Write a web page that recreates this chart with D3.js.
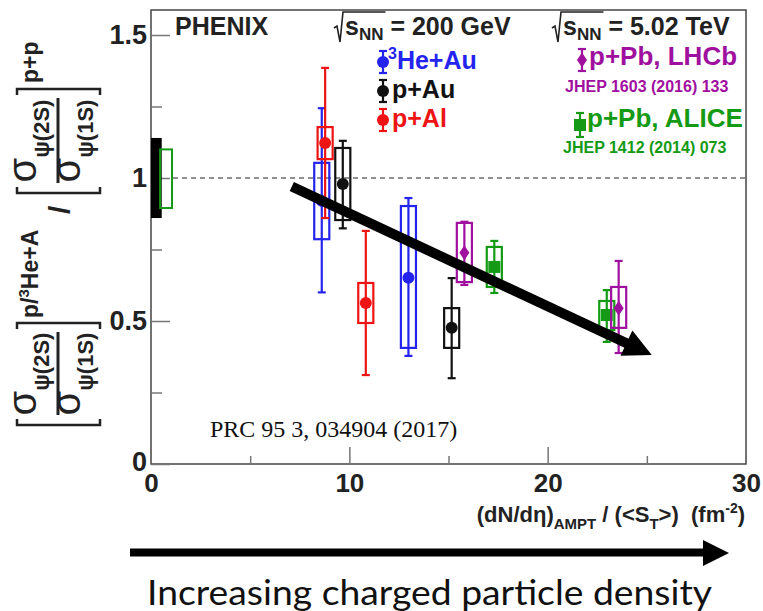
<!DOCTYPE html>
<html><head><meta charset="utf-8">
<script src="https://cdn.jsdelivr.net/npm/d3@7"></script>
<style>
  body { margin: 0; background: #fff; }
  svg { display: block; }
  .b { font-family: "Liberation Sans", Arial, sans-serif; font-weight: bold; }
</style></head>
<body>
<svg id="chart" width="763" height="611"></svg>
<script>
// ---- data: x = (dN/deta)/<S_T>, y = double ratio ----
// stat = error bar, sys = open box
const HEAU  = [ {x: 8.61,  y: 0.920, statLo: 0.600, statHi: 1.244, sysLo: 0.786, sysHi: 1.053},
                {x: 12.98, y: 0.651, statLo: 0.378, statHi: 0.930, sysLo: 0.406, sysHi: 0.902} ];
const PAL   = [ {x: 8.78,  y: 1.122, statLo: 0.860, statHi: 1.385, sysLo: 1.066, sysHi: 1.178},
                {x: 10.83, y: 0.563, statLo: 0.311, statHi: 0.815, sysLo: 0.493, sysHi: 0.633} ];
const PAU   = [ {x: 9.67,  y: 0.979, statLo: 0.824, statHi: 1.130, sysLo: 0.853, sysHi: 1.105},
                {x: 15.16, y: 0.476, statLo: 0.300, statHi: 0.650, sysLo: 0.406, sysHi: 0.545} ];
const ALICE = [ {x: 17.31, y: 0.689, statLo: 0.598, statHi: 0.780, sysLo: 0.619, sysHi: 0.759},
                {x: 22.98, y: 0.521, statLo: 0.427, statHi: 0.608, sysLo: 0.468, sysHi: 0.570} ];
const LHCB  = [ {x: 15.80, y: 0.739, statLo: 0.626, statHi: 0.847, sysLo: 0.636, sysHi: 0.843},
                {x: 23.58, y: 0.545, statLo: 0.388, statHi: 0.710, sysLo: 0.476, sysHi: 0.619} ];

// global normalisation uncertainties drawn at the left edge
const GLOBAL_PP    = {x0: 0.00, x1: 0.54, lo: 0.86,  hi: 1.14};
const GLOBAL_ALICE = {x0: 0.46, x1: 1.06, lo: 0.895, hi: 1.10};

// trend arrow (from, to) in data units
const TREND = {x0: 7.1, y0: 0.97, x1: 25.25, y1: 0.381};

const X_MAJOR = [0, 10, 20, 30];
const X_MINOR = [5, 15, 25];
const Y_MAJOR = [0, 0.5, 1, 1.5];
const Y_MINOR = [0.25, 0.75, 1.25];
const Y_LABELS = ["0", "0.5", "1", "1.5"];

const BLUE = "#2424ee", RED = "#ee1414", BLACK = "#111", PURPLE = "#a0109e", GREEN = "#159a15";

const SERIES = [
  {data: HEAU,  color: BLUE,   marker: "circle"},
  {data: PAL,   color: RED,    marker: "circle"},
  {data: PAU,   color: BLACK,  marker: "circle"},
  {data: ALICE, color: GREEN,  marker: "square"},
  {data: LHCB,  color: PURPLE, marker: "diamond"}
];

const svg = d3.select("#chart");
const x = d3.scaleLinear().domain([0, 30]).range([151, 746]);
const y = d3.scaleLinear().domain([0, 1.5]).range([464, 35]);
const BOX_HW = 0.38;   // half width of systematic boxes, x units

// frame
svg.append("rect").attr("x", x(0)).attr("y", 10).attr("width", x(30) - x(0)).attr("height", y(0) - 10)
   .attr("fill", "none").attr("stroke", "#444").attr("stroke-width", 1.5);

// axes (ticks inward, labels outside)
const yAx = svg.append("g").attr("class", "b").attr("transform", `translate(${x(0)},0)`)
   .call(d3.axisLeft(y).tickValues(Y_MAJOR).tickSize(-19).tickPadding(4).tickFormat((d, i) => Y_LABELS[i]));
yAx.call(g => g.select(".domain").remove());
yAx.selectAll("text").attr("font-size", 27).attr("font-family", null).attr("fill", "#222");
yAx.selectAll("line").attr("stroke", "#777").attr("stroke-width", 1.5);
yAx.selectAll(".tick").filter(d => d === 0).select("text").attr("dy", "0.25em");
svg.append("g").attr("transform", `translate(${x(0)},0)`)
   .call(d3.axisLeft(y).tickValues(Y_MINOR).tickSize(-11).tickFormat(""))
   .call(g => g.select(".domain").remove())
   .selectAll("line").attr("stroke", "#777").attr("stroke-width", 1.5);

const xAx = svg.append("g").attr("class", "b").attr("transform", `translate(0,${y(0)})`)
   .call(d3.axisBottom(x).tickValues(X_MAJOR).tickSize(-17).tickPadding(10));
xAx.call(g => g.select(".domain").remove());
xAx.selectAll("text").attr("font-size", 26).attr("font-family", null).attr("fill", "#222");
xAx.selectAll("line").attr("stroke", "#777").attr("stroke-width", 1.5);
xAx.selectAll(".tick").filter(d => d === 0 || d === 30).select("line").remove();
svg.append("g").attr("transform", `translate(0,${y(0)})`)
   .call(d3.axisBottom(x).tickValues(X_MINOR).tickSize(-8).tickFormat(""))
   .call(g => g.select(".domain").remove())
   .selectAll("line").attr("stroke", "#777").attr("stroke-width", 1.5);

// reference line at 1 (starts right of the global boxes)
svg.append("line").attr("x1", x(GLOBAL_ALICE.x1) + 1).attr("x2", x(30)).attr("y1", y(1)).attr("y2", y(1))
   .attr("stroke", "#222").attr("stroke-width", 1).attr("stroke-dasharray", "5,4");

// global uncertainty boxes
svg.append("rect").attr("x", x(GLOBAL_PP.x0)).attr("width", x(GLOBAL_PP.x1) - x(GLOBAL_PP.x0))
   .attr("y", y(GLOBAL_PP.hi)).attr("height", y(GLOBAL_PP.lo) - y(GLOBAL_PP.hi)).attr("fill", "#000");
svg.append("rect").attr("x", x(GLOBAL_ALICE.x0)).attr("width", x(GLOBAL_ALICE.x1) - x(GLOBAL_ALICE.x0))
   .attr("y", y(GLOBAL_ALICE.hi)).attr("height", y(GLOBAL_ALICE.lo) - y(GLOBAL_ALICE.hi))
   .attr("fill", "none").attr("stroke", GREEN).attr("stroke-width", 2);

function marker(g, type, cx, cy, color){
  if (type === "circle") g.append("circle").attr("cx", cx).attr("cy", cy).attr("r", 6).attr("fill", color);
  else if (type === "square") g.append("rect").attr("x", cx - 6).attr("y", cy - 6).attr("width", 12).attr("height", 12).attr("fill", color);
  else g.append("path").attr("d", `M${cx},${cy - 7.5}L${cx + 5},${cy}L${cx},${cy + 7.5}L${cx - 5},${cy}Z`).attr("fill", color);
}
function errbar(g, cx, y0, y1, color){
  g.append("line").attr("x1", cx).attr("x2", cx).attr("y1", y0).attr("y2", y1)
   .attr("stroke", color).attr("stroke-width", 2.2);
  [y0, y1].forEach(v => g.append("line").attr("x1", cx - 4).attr("x2", cx + 4).attr("y1", v).attr("y2", v)
   .attr("stroke", color).attr("stroke-width", 2.2));
}

// points: box, error bar, marker
SERIES.forEach(s => {
  const g = svg.append("g");
  s.data.forEach(d => {
    g.append("rect").attr("x", x(d.x - BOX_HW)).attr("width", x(d.x + BOX_HW) - x(d.x - BOX_HW))
     .attr("y", y(d.sysHi)).attr("height", y(d.sysLo) - y(d.sysHi))
     .attr("fill", "none").attr("stroke", s.color).attr("stroke-width", 2.2);
    errbar(g, x(d.x), y(d.statLo), y(d.statHi), s.color);
    marker(g, s.marker, x(d.x), y(d.y), s.color);
  });
});

// trend arrow
(function(){
  const ax0 = x(TREND.x0), ay0 = y(TREND.y0), ax1 = x(TREND.x1), ay1 = y(TREND.y1);
  const len = Math.hypot(ax1 - ax0, ay1 - ay0), ux = (ax1 - ax0) / len, uy = (ay1 - ay0) / len;
  const hl = 28, hw = 14, bx = ax1 - ux * hl, by = ay1 - uy * hl;
  svg.append("line").attr("x1", ax0).attr("y1", ay0).attr("x2", bx + ux * 2).attr("y2", by + uy * 2)
     .attr("stroke", "#000").attr("stroke-width", 10);
  svg.append("path").attr("fill", "#000")
     .attr("d", `M${ax1},${ay1}L${bx - uy * hw},${by + ux * hw}L${bx + uy * hw},${by - ux * hw}Z`);
})();

// ---- texts inside the frame ----
function txt(px, py, str, size, color, anchor){
  return svg.append("text").attr("class", "b").attr("x", px).attr("y", py).attr("font-size", size)
     .attr("fill", color || "#222").attr("text-anchor", anchor || "start").text(str);
}
txt(175, 35, "PHENIX", 25);

function sqrtLabel(px, py, rest){
  const t = svg.append("text").attr("class", "b").attr("x", px + 10).attr("y", py).attr("font-size", 25).attr("fill", "#222");
  const s = t.append("tspan").text("s");
  const nn = t.append("tspan").attr("font-size", 17).attr("dy", 5).text("NN");
  t.append("tspan").attr("dy", -5).text(rest);
  const w = s.node().getComputedTextLength() + nn.node().getComputedTextLength();
  svg.append("path").attr("fill", "none").attr("stroke", "#222").attr("stroke-width", 1.6)
     .attr("d", `M${px - 1},${py - 7}L${px + 2},${py - 9}L${px + 5},${py + 7}L${px + 8},${py - 23}H${px + 12 + w}`);
}
sqrtLabel(335, 35, " = 200 GeV");
sqrtLabel(553, 35, " = 5.02 TeV");

// legend, 200 GeV
const LEG200 = [
  {pre: "3", label: "He+Au", color: BLUE},
  {pre: "",  label: "p+Au",  color: BLACK},
  {pre: "",  label: "p+Al",  color: RED}
];
LEG200.forEach((d, i) => {
  const cy = 62 + i * 29;
  errbar(svg, 383, cy - 11, cy + 11, d.color);
  marker(svg, "circle", 383, cy, d.color);
  const t = svg.append("text").attr("class", "b").attr("x", d.pre ? 388 : 392).attr("y", cy + 7)
     .attr("font-size", 25).attr("fill", d.color);
  if (d.pre){
    t.append("tspan").attr("font-size", 16).attr("dy", -10).text(d.pre);
    t.append("tspan").attr("dy", 10).text(d.label);
  } else t.text(d.label);
});

// legend, 5.02 TeV
errbar(svg, 582, 49, 71, PURPLE);
marker(svg, "diamond", 582, 60, PURPLE);
txt(589, 65, "p+Pb, LHCb", 26, PURPLE);
txt(565, 92, "JHEP 1603 (2016) 133", 16, PURPLE);
errbar(svg, 580, 113, 137, GREEN);
marker(svg, "square", 580, 125, GREEN);
txt(587, 127, "p+Pb, ALICE", 26, GREEN);
txt(563, 153, "JHEP 1412 (2014) 073", 16, GREEN);

svg.append("text").attr("x", 210).attr("y", 437).attr("font-family", "'Liberation Serif', 'Times New Roman', serif")
   .attr("font-size", 24).attr("fill", "#111").text("PRC 95 3, 034904 (2017)");

// ---- x title ----
(function(){
  const t = svg.append("text").attr("class", "b").attr("x", 745).attr("y", 522).attr("font-size", 22)
     .attr("fill", "#222").attr("text-anchor", "end");
  t.append("tspan").text("(dN/dη)");
  t.append("tspan").attr("font-size", 15).attr("dy", 7).text("AMPT");
  t.append("tspan").attr("dy", -7).text(" / (<S");
  t.append("tspan").attr("font-size", 15).attr("dy", 7).text("T");
  t.append("tspan").attr("dy", -7).text(">)\u00a0 (fm");
  t.append("tspan").attr("font-size", 14).attr("dy", -9).text("-2");
  t.append("tspan").attr("dy", 9).text(")");
})();

// ---- y title (rotated, reads bottom to top) ----
(function(){
  const g = svg.append("g").attr("transform", "translate(0,464) rotate(-90)");
  function ratio(l0, l1){
    const mid = (l0 + l1) / 2;
    g.append("path").attr("fill", "none").attr("stroke", "#222").attr("stroke-width", 2.5)
     .attr("d", `M${l0 + 6},17H${l0}V100H${l0 + 6}M${l1 - 6},17H${l1}V100H${l1 - 6}`);
    g.append("line").attr("x1", l0 + 10).attr("x2", l1 - 9).attr("y1", 58).attr("y2", 58)
     .attr("stroke", "#222").attr("stroke-width", 3);
    [["(2S)", 36], ["(1S)", 80]].forEach(([st, base]) => {
      const t = g.append("text").attr("class", "b").attr("x", mid).attr("y", base)
         .attr("text-anchor", "middle").attr("fill", "#222");
      t.append("tspan").attr("font-size", 40).attr("font-weight", "normal").text("σ");
      t.append("tspan").attr("font-size", 22).attr("dy", 13).text("ψ" + st);
    });
  }
  ratio(39, 141);
  ratio(271, 375);
  const sup = g.append("text").attr("class", "b").attr("x", 146).attr("y", 38).attr("font-size", 23).attr("fill", "#222");
  sup.append("tspan").text("p/");
  sup.append("tspan").attr("font-size", 15).attr("dy", -9).text("3");
  sup.append("tspan").attr("dy", 9).text("He+A");
  g.append("text").attr("class", "b").attr("x", 250).attr("y", 70).attr("font-size", 30).attr("fill", "#222").text("/");
  g.append("text").attr("class", "b").attr("x", 381).attr("y", 38).attr("font-size", 23).attr("fill", "#222").text("p+p");
})();

// ---- bottom annotation ----
svg.append("line").attr("x1", 130).attr("x2", 706).attr("y1", 552.5).attr("y2", 552.5)
   .attr("stroke", "#000").attr("stroke-width", 8);
svg.append("path").attr("fill", "#000").attr("d", "M703,540L729,553L703,566Z");
svg.append("text").attr("x", 147).attr("y", 605).attr("font-family", "Lato, 'Open Sans', sans-serif")
   .attr("font-size", 34).attr("fill", "#111").attr("textLength", 565).attr("lengthAdjust", "spacingAndGlyphs")
   .text("Increasing charged particle density");
</script>
</body></html>
